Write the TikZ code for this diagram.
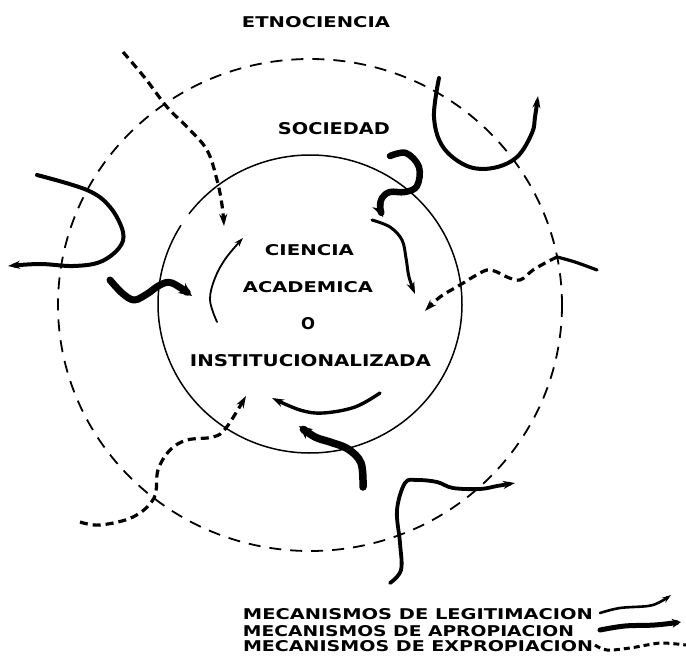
\documentclass[tikz,border=0pt]{standalone}
\usepackage{fontspec}
\setmainfont{DejaVu Sans}
\usetikzlibrary{arrows.meta}
\newcommand\lbl[3]{\resizebox{#1pt}{#2pt}{\bfseries #3}}
\tikzset{
  txt/.style={inner sep=0pt, anchor=center},
  legit/.style={line width=3.6pt, line cap=round, line join=round, -{Stealth[length=12pt,width=8pt]}},
  legthin/.style={line width=1.8pt, line cap=round, -{Stealth[length=9pt,width=6pt]}},
  aprop/.style={line width=6.5pt, line cap=round, line join=round, -{Stealth[length=13pt,width=12pt]}},
  expro/.style={line width=3.2pt, dash pattern=on 8pt off 5pt, -{Stealth[length=12pt,width=8pt]}},
  outerc/.style={line width=1.8pt, dash pattern=on 12pt off 9pt},
  innerc/.style={line width=1.5pt}
}
\begin{document}
\begin{tikzpicture}[x=1pt,y=-1pt]
\useasboundingbox[fill=white] (0,0) rectangle (686,661);
% circles
\draw[outerc] (310,305) ellipse [x radius=252, y radius=246];
\draw[innerc] (310,304) ++(217.2:152 and 149) arc[start angle=217.2, end angle=571.9, x radius=152, y radius=149];
% texts
\node[txt] (etno) at (316,22) {\lbl{148}{11}{ETNOCIENCIA}};
\node[txt] (soc) at (334,129) {\lbl{112}{12}{SOCIEDAD}};
\node[txt] (cien) at (309.5,250.5) {\lbl{89}{11}{CIENCIA}};
\node[txt] (acad) at (308,287.5) {\lbl{130}{11}{ACADEMICA}};
\node[txt] (o) at (308,324) {\lbl{14}{12}{O}};
\node[txt] (inst) at (310.5,360.5) {\lbl{241}{12}{INSTITUCIONALIZADA}};
% arrows
\draw[expro] plot[smooth, tension=0.6] coordinates {(123,52) (145,78) (167,107) (187,127) (207,150) (217,180) (222,205) (224,226)};
\draw[legthin] plot[smooth, tension=0.6] coordinates {(217,322) (210,300) (215,278) (226,258) (243,238)};
\draw[aprop] plot[smooth, tension=0.6] coordinates {(390,156) (406,153) (419,167) (417,186) (405,192) (390,192) (382,198) (380,207) (383,217)};
\draw[legit, line width=3pt] plot[smooth, tension=0.6] coordinates {(372,220) (390,227) (402,240) (406,258) (409,277) (415,294)};
\draw[legit, line width=4pt] plot[smooth, tension=0.6] coordinates {(439,78) (434,117) (443,147) (467,166) (493,168) (517,157) (532,133) (535,117) (538,96)};
\draw[legit, line width=4pt] plot[smooth, tension=0.6] coordinates {(37,175) (87,190) (110,207) (123,232) (119,248) (100,262) (73,266) (40,264) (8,266)};
\draw[aprop, line width=7pt] plot[smooth, tension=0.6] coordinates {(110,280) (122,293) (134,300) (147,294) (160,285) (172,283) (192,296)};
\draw[line width=3.2pt, line cap=round] plot[smooth, tension=0.6] coordinates {(597,270) (575,262) (557,257)};
\draw[expro] plot[smooth, tension=0.6] coordinates {(557,257) (547,262) (533,270) (520,280) (507,277) (497,272) (487,270) (473,277) (460,285) (440,297) (425,311)};
\draw[legit, line width=3.4pt] plot[smooth, tension=0.6] coordinates {(380,393) (355,407) (323,413) (300,410) (272,398)};
\draw[aprop, line width=7.5pt] plot[smooth, tension=0.6] coordinates {(363,487) (361,463) (348,449) (330,442) (315,437) (299,426)};
\draw[expro] plot[smooth, tension=0.6] coordinates {(80,522) (100,525) (133,517) (154,498) (158,470) (170,450) (187,440) (213,437) (226,428) (246,396)};
\draw[legit, line width=3.8pt] plot[smooth, tension=0.6] coordinates {(390,583) (401,570) (400,543) (397,510) (405,483) (417,480) (437,482) (453,488) (480,489) (497,486) (515,483)};
% legend
\node[txt] (l1) at (418,614.5) {\lbl{350}{11}{MECANISMOS DE LEGITIMACION}};
\node[txt] (l2) at (408.5,631) {\lbl{331}{11}{MECANISMOS DE APROPIACION}};
\node[txt] (l3) at (418,646.5) {\lbl{350}{11}{MECANISMOS DE EXPROPIACION}};
\draw[legit, line width=2.6pt, -{Stealth[length=9pt,width=6pt]}] plot[smooth, tension=0.6] coordinates {(600,613) (620,608) (648,606) (660,602) (671,595)};
\draw[aprop, line width=5pt, -{Stealth[length=9pt,width=9pt]}] plot[smooth, tension=0.6] coordinates {(600,630) (625,626) (655,625) (681,622)};
\draw[line width=3pt, dash pattern=on 6pt off 4pt] plot[smooth, tension=0.6] coordinates {(595,645) (607,650) (630,648) (647,645) (663,643) (686,645)};
\end{tikzpicture}
\end{document}
